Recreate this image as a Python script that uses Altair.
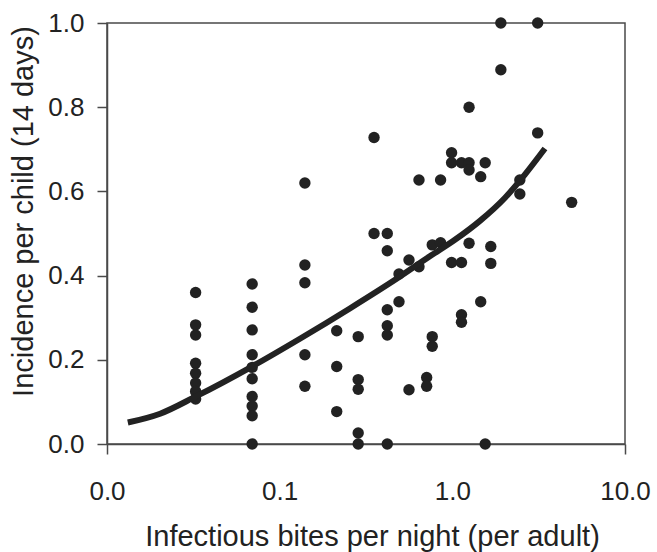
import altair as alt
import pandas as pd

# Scatter points: infectious bites per night (x) and incidence per child (y)
bite_x = (
    [0.0326] * 8
    + [0.0693] * 10
    + [0.140] * 5
    + [0.214] * 3
    + [0.285] * 5
    + [0.352] * 2
    + [0.420] * 6
    + [0.491] * 2
    + [0.561] * 2
    + [0.641] * 2
    + [0.710] * 2
    + [0.765] * 3
    + [0.855] * 2
    + [0.99] * 3
    + [1.13] * 4
    + [1.25] * 4
    + [1.46] * 2
    + [1.55] * 2
    + [1.67] * 2
    + [1.91] * 2
    + [2.46] * 2
    + [3.12] * 2
    + [4.91]
)
incidence = [
    0.36, 0.283, 0.259, 0.192, 0.168, 0.145, 0.125, 0.107,
    0.38, 0.325, 0.271, 0.212, 0.182, 0.155, 0.113, 0.09, 0.067, 0.0,
    0.62, 0.425, 0.383, 0.212, 0.137,
    0.269, 0.184, 0.077,
    0.255, 0.153, 0.13, 0.026, 0.0,
    0.728, 0.50,
    0.50, 0.459, 0.319, 0.281, 0.259, 0.0,
    0.404, 0.338,
    0.437, 0.129,
    0.627, 0.421,
    0.158, 0.137,
    0.255, 0.232, 0.473,
    0.627, 0.478,
    0.692, 0.668, 0.431,
    0.668, 0.431, 0.307, 0.289,
    0.80, 0.668, 0.651, 0.477,
    0.635, 0.338,
    0.668, 0.0,
    0.469, 0.429,
    1.0, 0.889,
    0.627, 0.594,
    1.0, 0.739,
    0.574,
]

# Fitted curve
curve_x = [0.0132, 0.0203, 0.0327, 0.0691, 0.131, 0.255, 0.478, 0.741, 1.035, 1.445, 2.02, 2.63, 3.44]
curve_y = [0.051, 0.072, 0.113, 0.184, 0.250, 0.322, 0.393, 0.446, 0.485, 0.53, 0.585, 0.64, 0.702]

x_ticks = [0.01, 0.1, 1, 10]
y_ticks = [0.0, 0.2, 0.4, 0.6, 0.8, 1.0]

pts = pd.DataFrame({"bites": bite_x, "inc": incidence})
crv = pd.DataFrame({"bites": curve_x, "inc": curve_y})

ink = "#222222"
frame = "#4a4a4a"
font = "Liberation Sans"

xscale = alt.Scale(type="log", domain=[0.01, 10])
yscale = alt.Scale(domain=[0, 1])

xaxis = alt.Axis(
    title="Infectious bites per night (per adult)",
    values=x_ticks,
    format=".1f",
    grid=False,
    tickSize=10,
    tickColor=frame,
    tickWidth=1.5,
    tickOpacity={"condition": {"test": "datum.value < 0.011 || datum.value > 9.9", "value": 1}, "value": 0},
    domainColor=frame,
    domainWidth=1.5,
    labelFlush=False,
    labelFontSize=26,
    labelPadding=24,
    labelColor=ink,
    labelFont=font,
    titleFont=font,
    titleFontSize=29,
    titleFontWeight="normal",
    titleColor=ink,
    titlePadding=18,
    titleX=265,
)
yaxis = alt.Axis(
    title="Incidence per child (14 days)",
    values=y_ticks,
    format=".1f",
    grid=False,
    tickSize=10,
    tickColor=frame,
    tickWidth=1.5,
    domainColor=frame,
    domainWidth=1.5,
    labelFlush=False,
    labelFontSize=26,
    labelPadding=13,
    labelColor=ink,
    labelFont=font,
    titleFont=font,
    titleFontSize=29,
    titleFontWeight="normal",
    titleColor=ink,
    titlePadding=9,
    titleY=188,
)

points = alt.Chart(pts).mark_circle(size=130, opacity=1, color=ink).encode(
    x=alt.X("bites:Q", scale=xscale, axis=xaxis),
    y=alt.Y("inc:Q", scale=yscale, axis=yaxis),
)
line = alt.Chart(crv).mark_line(strokeWidth=6, color=ink, interpolate="monotone").encode(
    x=alt.X("bites:Q", scale=xscale),
    y=alt.Y("inc:Q", scale=yscale),
)

chart = (
    alt.layer(points, line)
    .properties(
        width=518,
        height=421,
        autosize="none",
        padding={"left": 107, "top": 23, "right": 32, "bottom": 108},
        background="white",
    )
    .configure_view(stroke=frame, strokeWidth=1.5)
)

chart.save("out.html", embed_options={"renderer": "svg", "actions": False})
